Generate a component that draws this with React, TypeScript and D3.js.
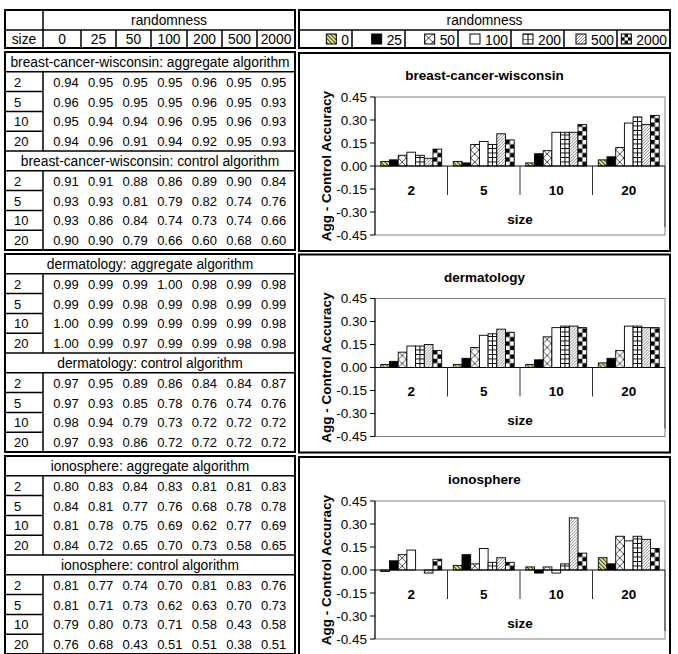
import React from 'react';
import * as d3 from 'd3';

const randomness = ['0', '25', '50', '100', '200', '500', '2000'];
const sizes = ['2', '5', '10', '20'];
const datasetNames = ['breast-cancer-wisconsin', 'dermatology', 'ionosphere'];
const yTickValues = [0.45, 0.3, 0.15, 0, -0.15, -0.3, -0.45];
const yTickLabels = ['0.45', '0.30', '0.15', '0.00', '-0.15', '-0.30', '-0.45'];

// rows = size, columns = randomness
const bcwAggregate = [
  [0.94, 0.95, 0.95, 0.95, 0.96, 0.95, 0.95],
  [0.96, 0.95, 0.95, 0.95, 0.96, 0.95, 0.93],
  [0.95, 0.94, 0.94, 0.96, 0.95, 0.96, 0.93],
  [0.94, 0.96, 0.91, 0.94, 0.92, 0.95, 0.93],
];
const bcwControl = [
  [0.91, 0.91, 0.88, 0.86, 0.89, 0.9, 0.84],
  [0.93, 0.93, 0.81, 0.79, 0.82, 0.74, 0.76],
  [0.93, 0.86, 0.84, 0.74, 0.73, 0.74, 0.66],
  [0.9, 0.9, 0.79, 0.66, 0.6, 0.68, 0.6],
];
const dermAggregate = [
  [0.99, 0.99, 0.99, 1.0, 0.98, 0.99, 0.98],
  [0.99, 0.99, 0.98, 0.99, 0.98, 0.99, 0.99],
  [1.0, 0.99, 0.99, 0.99, 0.99, 0.99, 0.98],
  [1.0, 0.99, 0.97, 0.99, 0.99, 0.98, 0.98],
];
const dermControl = [
  [0.97, 0.95, 0.89, 0.86, 0.84, 0.84, 0.87],
  [0.97, 0.93, 0.85, 0.78, 0.76, 0.74, 0.76],
  [0.98, 0.94, 0.79, 0.73, 0.72, 0.72, 0.72],
  [0.97, 0.93, 0.86, 0.72, 0.72, 0.72, 0.72],
];
const ionoAggregate = [
  [0.8, 0.83, 0.84, 0.83, 0.81, 0.81, 0.83],
  [0.84, 0.81, 0.77, 0.76, 0.68, 0.78, 0.78],
  [0.81, 0.78, 0.75, 0.69, 0.62, 0.77, 0.69],
  [0.84, 0.72, 0.65, 0.7, 0.73, 0.58, 0.65],
];
const ionoControl = [
  [0.81, 0.77, 0.74, 0.7, 0.81, 0.83, 0.76],
  [0.81, 0.71, 0.73, 0.62, 0.63, 0.7, 0.73],
  [0.79, 0.8, 0.73, 0.71, 0.58, 0.43, 0.58],
  [0.76, 0.68, 0.43, 0.51, 0.51, 0.38, 0.51],
];

const aggregates = [bcwAggregate, dermAggregate, ionoAggregate];
const controls = [bcwControl, dermControl, ionoControl];

const FONT = 'Arial, "Liberation Sans", Helvetica, sans-serif';
const FS = 13.8;
const NFS = 13;
const CFS = 13.5;

const BLOCK_TOPS = [52, 254, 456];
const ROW_H = 19.8;
const CHART_TOPS = [53, 254.5, 457];

const x0 = d3.scaleBand<string>().domain(sizes).range([375, 665]).padding(0);
const x1 = d3
  .scaleBand<string>()
  .domain(randomness)
  .range([0, x0.bandwidth()])
  .paddingInner(0)
  .paddingOuter(0.667);
const BW = x1.bandwidth();

const patternIds = ['p0', 'p25', 'p50', 'p100', 'p200', 'p500', 'p2000'];
const legendPatternIds = ['p0', 'p25', 'p50', 'p100', 'lp200', 'p500', 'lp2000'];

function Defs() {
  return (
    <defs>
      <pattern id="p0" patternUnits="userSpaceOnUse" width={4} height={4}>
        <rect width={4} height={4} fill="#ffff99" />
        <path d="M-1,-1 L5,5 M-1,3 L1,5 M3,-1 L5,1" stroke="#222" strokeWidth={1.1} />
      </pattern>
      <pattern id="p25" patternUnits="userSpaceOnUse" width={4} height={4}>
        <rect width={4} height={4} fill="#000" />
      </pattern>
      <pattern id="p50" patternUnits="userSpaceOnUse" width={8} height={8}>
        <rect width={8} height={8} fill="#fff" />
        <path d="M0,8 L8,0 M0,0 L8,8" stroke="#000" strokeWidth={0.7} />
      </pattern>
      <pattern id="p100" patternUnits="userSpaceOnUse" width={4} height={4}>
        <rect width={4} height={4} fill="#fff" />
      </pattern>
      <pattern id="p200" patternUnits="userSpaceOnUse" width={BW} height={4.5}>
        <rect width={BW} height={4.5} fill="#fff" />
        <path d={`M${BW / 2},0 V4.5 M0,0.5 H${BW}`} stroke="#000" strokeWidth={1} />
      </pattern>
      <pattern id="p500" patternUnits="userSpaceOnUse" width={3} height={3}>
        <rect width={3} height={3} fill="#fff" />
        <path d="M0,3 L3,0 M-1,1 L1,-1 M2,4 L4,2" stroke="#555" strokeWidth={0.7} />
      </pattern>
      <pattern id="p2000" patternUnits="userSpaceOnUse" width={BW} height={BW}>
        <rect width={BW} height={BW} fill="#fff" />
        <rect x={0} y={0} width={BW / 2} height={BW / 2} fill="#000" />
        <rect x={BW / 2} y={BW / 2} width={BW / 2} height={BW / 2} fill="#000" />
      </pattern>
      <pattern id="lp200" patternUnits="userSpaceOnUse" width={10} height={5}>
        <rect width={10} height={5} fill="#fff" />
        <path d="M5,0 V5 M0,0 H10" stroke="#000" strokeWidth={1} />
      </pattern>
      <pattern id="lp2000" patternUnits="userSpaceOnUse" width={6.6} height={6.6}>
        <rect width={6.6} height={6.6} fill="#000" />
        <rect x={0} y={0} width={3.3} height={3.3} fill="#fff" />
        <rect x={3.3} y={3.3} width={3.3} height={3.3} fill="#fff" />
      </pattern>
    </defs>
  );
}

function LeftTable() {
  const L = 5;
  const R = 295;
  const sizeR = 43;
  const colB = [43, 81, 116, 151, 187, 222, 257, 295];
  const numX = (i: number) => 66 + i * 34.6;
  const els: React.ReactNode[] = [];
  const tb = ROW_H / 2 + 5;
  // header block
  els.push(<rect key="hb" x={L} y={10} width={R - L} height={38} fill="none" stroke="#000" strokeWidth={2} />);
  els.push(<line key="hl" x1={L} x2={R} y1={30} y2={30} stroke="#000" strokeWidth={1.5} />);
  els.push(<line key="hv" x1={sizeR} x2={sizeR} y1={10} y2={48} stroke="#000" strokeWidth={1.5} />);
  colB.slice(1, 7).forEach((cx, i) =>
    els.push(<line key={`hc${i}`} x1={cx} x2={cx} y1={30} y2={48} stroke="#000" strokeWidth={1.5} />)
  );
  els.push(
    <text key="hr" x={(sizeR + R) / 2} y={25} textAnchor="middle">randomness</text>
  );
  els.push(
    <text key="hs" x={(L + sizeR) / 2} y={44} textAnchor="middle">size</text>
  );
  randomness.forEach((r, i) =>
    els.push(
      <text key={`hrt${i}`} x={(colB[i] + colB[i + 1]) / 2} y={44} textAnchor="middle">{r}</text>
    )
  );

  datasetNames.forEach((name, d) => {
    const B = BLOCK_TOPS[d];
    const h = ROW_H;
    els.push(<rect key={`b${d}`} x={L} y={B} width={R - L} height={h * 10} fill="none" stroke="#000" strokeWidth={2} />);
    const sections = [
      { label: `${name}: aggregate algorithm`, data: aggregates[d], start: 0 },
      { label: `${name}: control algorithm`, data: controls[d], start: 5 },
    ];
    sections.forEach((s, si) => {
      const top = B + s.start * h;
      if (s.start > 0)
        els.push(<line key={`sl${d}${si}a`} x1={L} x2={R} y1={top} y2={top} stroke="#000" strokeWidth={1.5} />);
      els.push(<line key={`sl${d}${si}b`} x1={L} x2={R} y1={top + h} y2={top + h} stroke="#000" strokeWidth={1.5} />);
      els.push(
        <text key={`st${d}${si}`} x={(L + R) / 2} y={top + tb} textAnchor="middle">{s.label}</text>
      );
      els.push(
        <line key={`sv${d}${si}`} x1={sizeR} x2={sizeR} y1={top + h} y2={top + 5 * h} stroke="#000" strokeWidth={1.5} />
      );
      sizes.forEach((sz, ri) => {
        const ry = top + (ri + 1) * h;
        if (ri > 0)
          els.push(<line key={`rl${d}${si}${ri}`} x1={L} x2={sizeR} y1={ry} y2={ry} stroke="#000" strokeWidth={1.5} />);
        els.push(
          <text key={`rs${d}${si}${ri}`} x={14} y={ry + tb} fontSize={NFS}>{sz}</text>
        );
        s.data[ri].forEach((v, ci) =>
          els.push(
            <text key={`rv${d}${si}${ri}${ci}`} x={numX(ci)} y={ry + tb} textAnchor="middle" fontSize={NFS}>
              {v.toFixed(2)}
            </text>
          )
        );
      });
    });
  });
  return <g fontFamily={FONT} fontSize={FS} fill="#000">{els}</g>;
}

function RightHeader() {
  const L = 299;
  const R = 670;
  const cw = (R - L) / 7;
  return (
    <g fontFamily={FONT} fontSize={FS}>
      <rect x={L} y={10} width={R - L} height={38} fill="none" stroke="#000" strokeWidth={2} />
      <line x1={L} x2={R} y1={30} y2={30} stroke="#000" strokeWidth={1.5} />
      <text x={(L + R) / 2} y={25} textAnchor="middle">randomness</text>
      {randomness.map((r, i) => {
        const cl = L + i * cw;
        const cr = cl + cw;
        const tw = r.length * 0.556 * FS;
        const kx = Math.max(cl + 2, cr - 3 - tw - 5 - 10);
        return (
          <g key={r}>
            {i > 0 && <line x1={cl} x2={cl} y1={30} y2={48} stroke="#000" strokeWidth={1.5} />}
            <g transform={`translate(${kx},${34})`}>
              <rect x={0} y={0} width={10} height={10} fill={`url(#${legendPatternIds[i]})`} stroke="#000" strokeWidth={1} />
            </g>
            <text x={cr - 3} y={44.5} textAnchor="end">{r}</text>
          </g>
        );
      })}
    </g>
  );
}

function Chart({ idx }: { idx: number }) {
  const T = CHART_TOPS[idx];
  const y = d3.scaleLinear().domain([-0.45, 0.45]).range([T + 182, T + 44]);
  const y0 = y(0);
  const agg = aggregates[idx];
  const ctrl = controls[idx];
  const left = x0.range()[0];
  const right = x0.range()[1];
  return (
    <g fontFamily={FONT}>
      <rect x={299} y={T} width={371} height={198} fill="#fff" stroke="#000" strokeWidth={2} />
      <text x={(299 + 670) / 2} y={T + 27} textAnchor="middle" fontWeight="bold" fontSize={CFS}>
        {datasetNames[idx]}
      </text>
      <rect x={left} y={y(0.45)} width={right - left} height={y(-0.45) - y(0.45)} fill="#fff" stroke="#808080" strokeWidth={1} />
      {sizes.map((sz, i) =>
        randomness.map((r, j) => {
          const v = agg[i][j] - ctrl[i][j];
          const bx = (x0(sz) as number) + (x1(r) as number);
          const hy = y(v) - y0;
          const hh = Math.abs(hy);
          if (hh < 0.05) return null;
          return (
            <g key={`${sz}-${r}`} transform={`translate(${bx},${y0})`}>
              <rect x={0} y={Math.min(0, hy)} width={BW} height={hh} fill={`url(#${patternIds[j]})`} stroke="#000" strokeWidth={0.9} />
            </g>
          );
        })
      )}
      {/* y axis */}
      <line x1={left} x2={left} y1={y(0.45)} y2={y(-0.45)} stroke="#000" strokeWidth={1} />
      {yTickValues.map((t, k) => (
        <g key={k}>
          <line x1={left - 5} x2={left} y1={y(t)} y2={y(t)} stroke="#000" strokeWidth={1} />
          <text x={left - 8} y={y(t) + 4.8} textAnchor="end" fontSize={CFS}>{yTickLabels[k]}</text>
        </g>
      ))}
      {/* x axis at zero */}
      <line x1={left} x2={right} y1={y0} y2={y0} stroke="#000" strokeWidth={1} />
      {sizes.slice(1).map((sz) => (
        <line key={sz} x1={x0(sz)} x2={x0(sz)} y1={y0} y2={y0 + 29} stroke="#333" strokeWidth={1} />
      ))}
      <line x1={right} x2={right} y1={y0} y2={y0 + 61} stroke="#333" strokeWidth={1} />
      {sizes.map((sz) => (
        <text key={sz} x={(x0(sz) as number) + x0.bandwidth() / 2} y={y0 + 28.5} textAnchor="middle" fontWeight="bold" fontSize={CFS}>
          {sz}
        </text>
      ))}
      <text x={(left + right) / 2} y={y0 + 57.5} textAnchor="middle" fontWeight="bold" fontSize={CFS}>size</text>
      <text
        transform={`translate(${331},${y0}) rotate(-90)`}
        textAnchor="middle"
        fontWeight="bold"
        fontSize={CFS}
      >
        Agg - Control Accuracy
      </text>
    </g>
  );
}

export default function App() {
  return (
    <svg
      width={678}
      height={654}
      viewBox="0 0 678 654"
      style={{ position: 'absolute', left: 0, top: 0, background: '#fff' }}
    >
      <Defs />
      <rect width={678} height={654} fill="#fff" />
      <LeftTable />
      <RightHeader />
      {datasetNames.map((_, i) => (
        <Chart key={i} idx={i} />
      ))}
    </svg>
  );
}
